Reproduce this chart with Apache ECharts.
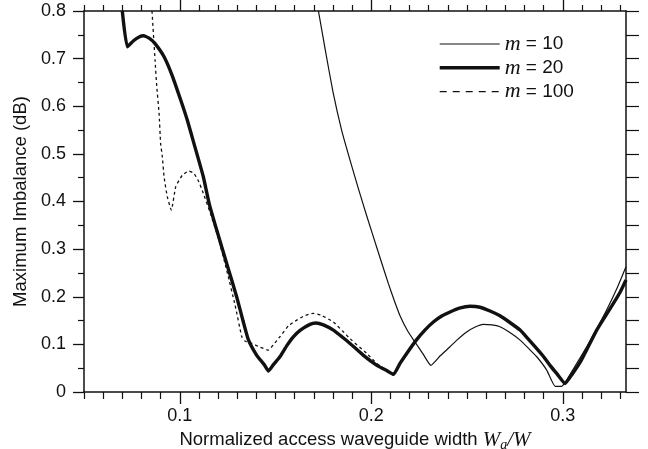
<!DOCTYPE html>
<html>
<head>
<meta charset="utf-8">
<script src="https://cdn.jsdelivr.net/npm/echarts@6/dist/echarts.min.js"></script>
<style>
  html, body { margin: 0; padding: 0; background: #fff; }
  #chart { width: 648px; height: 449px; }
</style>
</head>
<body>
<div id="chart"></div>
<script>
// m = 10 (thin)
const m10X = [0.1724, 0.1760, 0.1800, 0.1845, 0.1889, 0.1935, 0.1976, 0.2037, 0.2089, 0.2120, 0.2150,
  0.2190, 0.2228, 0.2270, 0.2311,
  0.2360, 0.2411, 0.2450, 0.2498, 0.2540, 0.2585, 0.2630, 0.2672, 0.2720, 0.2777, 0.2820, 0.2864,
  0.2916, 0.2960, 0.2994, 0.3020, 0.3070, 0.3125, 0.3180, 0.3229, 0.3280, 0.3330]
const m10Y = [0.800, 0.718, 0.630, 0.550, 0.487, 0.424, 0.370, 0.293, 0.228, 0.192, 0.160,
  0.128, 0.105, 0.080, 0.056,
  0.076, 0.095, 0.110, 0.126, 0.136, 0.142, 0.141, 0.137, 0.126, 0.109, 0.092, 0.074,
  0.046, 0.012, 0.012, 0.025, 0.058, 0.095, 0.135, 0.172, 0.215, 0.263]

// m = 20 (thick)
const m20X = [0.0700, 0.0726, 0.0760, 0.0790, 0.0810, 0.0840, 0.0870, 0.0918, 0.0960, 0.1005, 0.1040,
  0.1074, 0.1123, 0.1154, 0.1193, 0.1245, 0.1297, 0.1330, 0.1358, 0.1402, 0.1440, 0.1463, 0.1490,
  0.1523, 0.1560, 0.1593, 0.1630, 0.1680, 0.1710, 0.1750, 0.1802, 0.1850, 0.1889, 0.1959, 0.2029,
  0.2080, 0.2116, 0.2150, 0.2185, 0.2237, 0.2280, 0.2324, 0.2370, 0.2411, 0.2460, 0.2516, 0.2568,
  0.2620, 0.2672, 0.2720, 0.2777, 0.2820, 0.2864, 0.2900, 0.2933, 0.2970, 0.3012, 0.3050, 0.3090,
  0.3130, 0.3177, 0.3220, 0.3264, 0.3300, 0.3330]
const m20Y = [0.800, 0.725, 0.738, 0.746, 0.748, 0.743, 0.732, 0.704, 0.665, 0.613, 0.570,
  0.522, 0.452, 0.395, 0.340, 0.270, 0.200, 0.150, 0.110, 0.077, 0.058, 0.044, 0.058,
  0.074, 0.098, 0.116, 0.130, 0.142, 0.145, 0.141, 0.130, 0.115, 0.102, 0.077, 0.056,
  0.045, 0.037, 0.060, 0.081, 0.110, 0.130, 0.147, 0.160, 0.168, 0.176, 0.180, 0.178,
  0.170, 0.160, 0.147, 0.130, 0.111, 0.091, 0.074, 0.056, 0.038, 0.018, 0.038, 0.062,
  0.093, 0.130, 0.158, 0.186, 0.210, 0.235]

// m = 100 (dashed)
const m100X = [0.0855, 0.0871, 0.0880, 0.0892, 0.0900, 0.0909, 0.0918, 0.0935, 0.0956, 0.0979, 0.1013,
  0.1048, 0.1074, 0.1100, 0.1123, 0.1160, 0.1200, 0.1245, 0.1289, 0.1324, 0.1340, 0.1376, 0.1420,
  0.1463, 0.1490, 0.1523, 0.1570, 0.1611, 0.1650, 0.1697, 0.1740, 0.1802, 0.1850, 0.1889, 0.1976,
  0.2029, 0.2080, 0.2116]
const m100Y = [0.800, 0.697, 0.641, 0.585, 0.522, 0.494, 0.452, 0.410, 0.382, 0.431, 0.455,
  0.464, 0.459, 0.441, 0.417, 0.375, 0.325, 0.256, 0.182, 0.116, 0.107, 0.102, 0.094,
  0.088, 0.100, 0.116, 0.140, 0.151, 0.160, 0.165, 0.161, 0.147, 0.128, 0.112, 0.081,
  0.060, 0.046, 0.037]

const seriesNames = ['10', '20', '100']
const xMajorTicks = [0.1, 0.2, 0.3]
const xMinorTicks = [0.05, 0.06, 0.07, 0.08, 0.09, 0.11, 0.12, 0.13, 0.14, 0.15, 0.16, 0.17, 0.18, 0.19,
  0.21, 0.22, 0.23, 0.24, 0.25, 0.26, 0.27, 0.28, 0.29, 0.31, 0.32, 0.33]

const zip = (xs, ys) => xs.map((x, i) => [x, ys[i]])

const FONT = '"Liberation Sans", Arial, sans-serif'
const SERIF = '"Liberation Serif", serif'
const INK = '#111'
const NONE = 'rgba(0,0,0,0)'

const baseX = {
  type: 'value', min: 0.05, max: 0.333,
  splitLine: { show: false },
  axisLine: { show: true, lineStyle: { color: INK, width: 1.5 } },
}

const chart = echarts.init(document.getElementById('chart'))
chart.setOption({
  animation: false,
  backgroundColor: '#fff',
  grid: { left: 84, right: 22, top: 11, bottom: 57, containLabel: false, outerBoundsMode: 'none' },
  legend: {
    orient: 'vertical',
    left: 433, top: 28,
    itemWidth: 60, itemHeight: 20, itemGap: 1.8,
    itemStyle: { color: NONE, borderWidth: 0, borderColor: NONE },
    data: [
      { name: '10', lineStyle: { width: 1.2, color: INK } },
      { name: '20', lineStyle: { width: 3.4, color: INK } },
      { name: '100', lineStyle: { width: 1.3, color: INK, type: [7, 6] } },
    ],
    formatter: name => '{i|m} = ' + name,
    textStyle: {
      fontFamily: FONT, fontSize: 19, color: INK,
      rich: { i: { fontFamily: SERIF, fontStyle: 'italic', fontSize: 22, color: INK } },
    },
  },
  xAxis: [
    Object.assign({}, baseX, {
      position: 'bottom',
      name: 'Normalized access waveguide width {it|W}{sub|a}{it|/W}',
      nameLocation: 'middle', nameGap: 24,
      nameTextStyle: {
        fontFamily: FONT, fontSize: 18.5, color: INK,
        rich: {
          it: { fontFamily: SERIF, fontStyle: 'italic', fontSize: 21, color: INK },
          sub: { fontFamily: SERIF, fontStyle: 'italic', fontSize: 14, color: INK, padding: [10, 0, 0, 0] },
        },
      },
      axisTick: { show: true, inside: false, length: 12, customValues: xMajorTicks, lineStyle: { color: INK, width: 1.3 } },
      axisLabel: { show: true, customValues: xMajorTicks, margin: 15, fontFamily: FONT, fontSize: 18, color: INK },
    }),
    Object.assign({}, baseX, {
      position: 'bottom',
      axisLine: { show: false },
      axisTick: { show: true, inside: false, length: 7, customValues: xMinorTicks, lineStyle: { color: INK, width: 1.2 } },
      axisLabel: { show: false },
    }),
    Object.assign({}, baseX, {
      position: 'top',
      axisTick: { show: true, inside: false, length: 11, customValues: xMajorTicks, lineStyle: { color: INK, width: 1.3 } },
      axisLabel: { show: false },
    }),
    Object.assign({}, baseX, {
      position: 'top',
      axisLine: { show: false },
      axisTick: { show: true, inside: false, length: 6, customValues: xMinorTicks, lineStyle: { color: INK, width: 1.2 } },
      axisLabel: { show: false },
    }),
  ],
  yAxis: [
    {
      type: 'value', position: 'left', min: 0, max: 0.8, interval: 0.1,
      name: 'Maximum Imbalance (dB)', nameLocation: 'middle', nameGap: 50,
      nameTextStyle: { fontFamily: FONT, fontSize: 18.5, color: INK },
      splitLine: { show: false },
      axisLine: { show: true, lineStyle: { color: INK, width: 1.5 } },
      axisTick: { show: true, inside: false, length: 11, lineStyle: { color: INK, width: 1.3 } },
      minorTick: { show: true, splitNumber: 2, length: 6, lineStyle: { color: INK, width: 1.2 } },
      axisLabel: { margin: 18, fontFamily: FONT, fontSize: 18, color: INK,
        formatter: v => v === 0 ? '0' : v.toFixed(1) },
    },
    {
      type: 'value', position: 'right', min: 0, max: 0.8, interval: 0.05,
      splitLine: { show: false },
      axisLine: { show: true, lineStyle: { color: INK, width: 1.5 } },
      axisTick: { show: true, inside: false, length: 13, lineStyle: { color: INK, width: 1.2 } },
      axisLabel: { show: false },
    },
  ],
  series: [
    {
      name: seriesNames[0], type: 'line', symbol: 'none', smooth: 0.15,
      lineStyle: { color: INK, width: 1.2 },
      itemStyle: { color: INK },
      data: zip(m10X, m10Y),
    },
    {
      name: seriesNames[1], type: 'line', symbol: 'none', smooth: 0.15,
      lineStyle: { color: INK, width: 3.4 },
      itemStyle: { color: INK },
      data: zip(m20X, m20Y),
    },
    {
      name: seriesNames[2], type: 'line', symbol: 'none', smooth: 0.15,
      lineStyle: { color: INK, width: 1.3, type: [3, 3] },
      itemStyle: { color: INK },
      data: zip(m100X, m100Y),
    },
  ],
})
</script>
</body>
</html>
